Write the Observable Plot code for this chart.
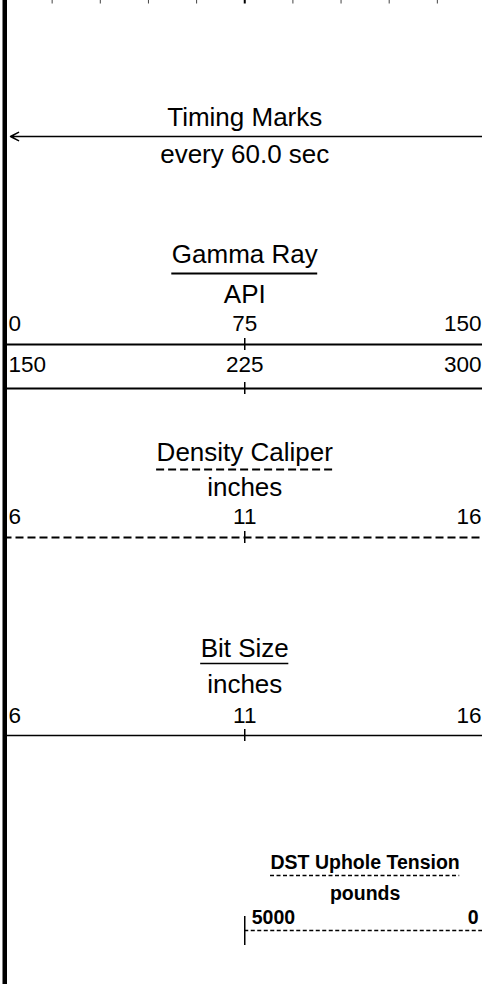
<!DOCTYPE html>
<html>
<head>
<meta charset="utf-8">
<script src="https://cdn.jsdelivr.net/npm/d3@7"></script>
<script src="https://cdn.jsdelivr.net/npm/@observablehq/plot@0.6"></script>
<style>
  html, body { margin: 0; padding: 0; background: #fff; }
  #chart svg { display: block; }
</style>
</head>
<body>
<div id="chart"></div>
<script>
// ---- data ----
const topTicks = [0.1, 0.2, 0.3, 0.4, 0.5, 0.6, 0.7, 0.8, 0.9];
const timingTitle = "Timing Marks";
const timingInterval = "every 60.0 sec";
const curveNames = ["Gamma Ray", "Density Caliper", "Bit Size", "DST Uphole Tension"];
const curveUnits = ["API", "inches", "inches", "pounds"];
const gammaRanges = [[0, 75, 150], [150, 225, 300]];
const caliperRange = [6, 11, 16];
const bitSizeRange = [6, 11, 16];
const tensionRange = [5000, 0];

// ---- layout ----
const FONT = '"Liberation Sans", Arial, Helvetica, sans-serif';
const X0 = 3.5, X1 = 485;
const W = 482, H = 984;
const toDomain = w => w / (X1 - X0);
const ctx = document.createElement("canvas").getContext("2d");
function textW(s, size, weight) {
  ctx.font = `${weight} ${size}px ${FONT}`;
  return ctx.measureText(s).width;
}
const FS = 26;   // words
const NFS = 22.5; // numbers
const BFS = 19.5; // bold DST block

const wordTexts = [];
const numMid = [];
const numStart = [];
const numEnd = [];
const boldMid = [];
const boldStart = [];
const boldEnd = [];
const solidThick = [];
const solidThin = [];
const dashLong = [];
const dashShort = [];
const centreTicks = [];

// timing marks
wordTexts.push({t: timingTitle, x: 0.5, y: 125});
wordTexts.push({t: timingInterval, x: 0.5, y: 162});

function underline(list, name, size, weight, cx, y) {
  const half = toDomain(textW(name, size, weight)) / 2;
  list.push({y, x1: cx - half, x2: cx + half});
}

// gamma ray
wordTexts.push({t: curveNames[0], x: 0.5, y: 262});
underline(solidThick, curveNames[0], FS, "normal", 0.5, 273);
wordTexts.push({t: curveUnits[0], x: 0.5, y: 302});
const gammaRows = [{lab: 330, line: 344}, {lab: 371, line: 388}];
gammaRanges.forEach((r, i) => {
  numStart.push({t: String(r[0]), x: 0, y: gammaRows[i].lab});
  numMid.push({t: String(r[1]), x: 0.5, y: gammaRows[i].lab});
  numEnd.push({t: String(r[2]), x: 1, y: gammaRows[i].lab});
  solidThick.push({y: gammaRows[i].line, x1: 0, x2: 1});
  centreTicks.push({x: 0.5, y1: gammaRows[i].line - 6, y2: gammaRows[i].line + 6});
});

// density caliper
wordTexts.push({t: curveNames[1], x: 0.5, y: 460});
underline(dashLong, curveNames[1], FS, "normal", 0.5, 469);
wordTexts.push({t: curveUnits[1], x: 0.5, y: 495});
numStart.push({t: String(caliperRange[0]), x: 0, y: 523});
numMid.push({t: String(caliperRange[1]), x: 0.5, y: 523});
numEnd.push({t: String(caliperRange[2]), x: 1, y: 523});
dashLong.push({y: 537, x1: 0, x2: 1});
centreTicks.push({x: 0.5, y1: 531, y2: 543});

// bit size
wordTexts.push({t: curveNames[2], x: 0.5, y: 656});
underline(solidThin, curveNames[2], FS, "normal", 0.5, 663);
wordTexts.push({t: curveUnits[2], x: 0.5, y: 692});
numStart.push({t: String(bitSizeRange[0]), x: 0, y: 722});
numMid.push({t: String(bitSizeRange[1]), x: 0.5, y: 722});
numEnd.push({t: String(bitSizeRange[2]), x: 1, y: 722});
solidThin.push({y: 735, x1: 0, x2: 1});
centreTicks.push({x: 0.5, y1: 729, y2: 741});

// DST uphole tension (right half track)
boldMid.push({t: curveNames[3], x: 0.75, y: 868});
underline(dashShort, curveNames[3], BFS, "bold", 0.75, 875);
boldMid.push({t: curveUnits[3], x: 0.75, y: 899});
boldStart.push({t: String(tensionRange[0]), x: 0.5, y: 923});
boldEnd.push({t: String(tensionRange[1]), x: 1, y: 923});
dashShort.push({y: 930, x1: 0.5, x2: 1});
centreTicks.push({x: 0.5, y1: 916, y2: 945});

const txt = (data, anchor, size, weight, dx) => Plot.text(data, {
  x: "x", y: "y", text: "t", textAnchor: anchor, lineAnchor: "bottom",
  fontSize: size, fontWeight: weight, fontFamily: FONT, fill: "black", dx
});
const rules = (data, sw, dash) => Plot.ruleY(data, {
  y: "y", x1: "x1", x2: "x2", stroke: "black", strokeWidth: sw,
  strokeDasharray: dash
});

const chart = Plot.plot({
  width: W, height: H,
  marginLeft: 0, marginRight: 0, marginTop: 0, marginBottom: 0,
  x: {domain: [0, 1], range: [X0, X1], axis: null},
  y: {domain: [0, H], range: [0, H], axis: null},
  style: {background: "white", overflow: "hidden"},
  marks: [
    // top grid ticks
    Plot.ruleX(topTicks.filter(d => d !== 0.5), {x: d => d, y1: 0, y2: 3.5, stroke: "#444", strokeWidth: 1}),
    Plot.ruleX(topTicks.filter(d => d === 0.5), {x: d => d, y1: 0, y2: 3.5, stroke: "black", strokeWidth: 2}),
    // timing line with arrow
    Plot.arrow([timingTitle], {x1: 1, x2: 0.0135, y1: 136, y2: 136, stroke: "black", strokeWidth: 1.5, headLength: 9, headAngle: 55}),
    rules(solidThick, 2, null),
    rules(solidThin, 1.5, null),
    rules(dashLong, 2, "8,4"),
    rules(dashShort, 1.5, "4,2.5"),
    Plot.ruleX(centreTicks, {x: "x", y1: "y1", y2: "y2", stroke: "black", strokeWidth: 1.5}),
    txt(wordTexts, "middle", FS, "normal", 0),
    txt(numMid, "middle", NFS, "normal", 0),
    txt(numStart, "start", NFS, "normal", 4.5),
    txt(numEnd, "end", NFS, "normal", -4),
    txt(boldMid, "middle", BFS, "bold", 0),
    txt(boldStart, "start", BFS, "bold", 7),
    txt(boldEnd, "end", BFS, "bold", -7),
    // left border
    Plot.ruleX([0], {x: d => d, y1: 0, y2: H, stroke: "black", strokeWidth: 4.5, dx: 0.75})
  ]
});
document.getElementById("chart").appendChild(chart);
</script>
</body>
</html>
